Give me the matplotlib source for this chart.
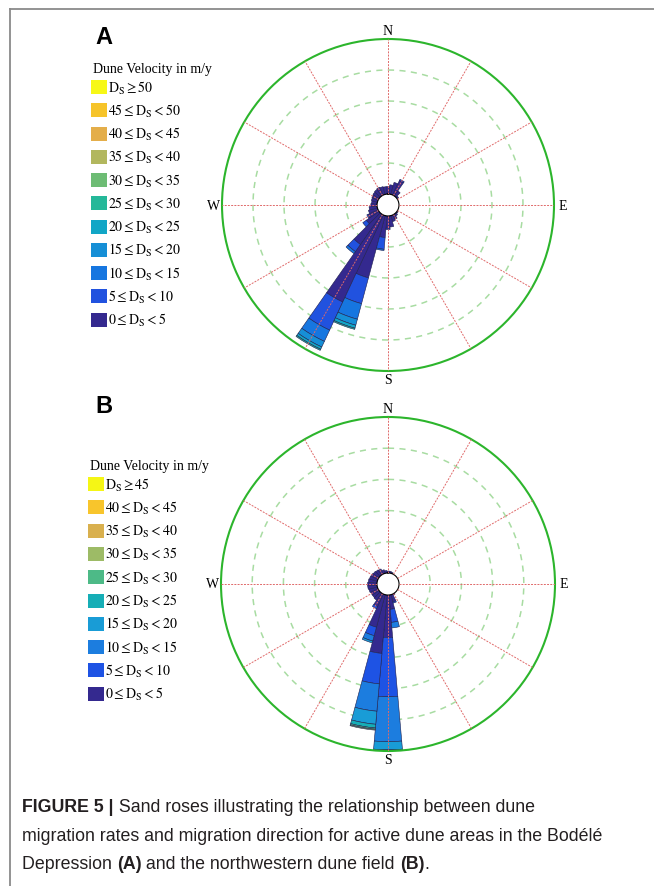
import numpy as np
import matplotlib
matplotlib.use('Agg')
import matplotlib.pyplot as plt
from matplotlib.patches import Rectangle
from matplotlib.lines import Line2D

plt.rcParams['mathtext.fontset'] = 'stix'

W, H = 654, 887

# direction bins (degrees clockwise from north), 10 degree sectors
directions = np.arange(0, 360, 10)

# panel A: frequency per direction for each velocity class (m/y)
a_0_5 = [1.2, 1.5, 2.0, 2.6, 1.0, 0.3, 0, 0, 0, 0,
         0, 0, 0, 0.2, 0.4, 0.8, 1.0, 1.8, 2.0, 3.5,
         10.4, 15.5, 6.0, 2.5, 1.8, 1.5, 1.3, 1.0, 0.9, 1.0,
         1.1, 1.2, 1.3, 1.4, 1.3, 1.2]
a_5_10 = [0, 0, 0, 0.2, 0, 0, 0, 0, 0, 0,
          0, 0, 0, 0, 0, 0, 0, 0, 0.2, 1.9,
          4.3, 5.0, 1.4, 0.7, 0.2, 0, 0, 0, 0, 0,
          0, 0, 0, 0, 0, 0]
a_10_15 = [0, 0, 0, 0, 0, 0, 0, 0, 0, 0,
           0, 0, 0, 0, 0, 0, 0, 0, 0, 0.2,
           2.6, 2.0, 0.4, 0, 0, 0, 0, 0, 0, 0,
           0, 0, 0, 0, 0, 0]
a_15_20 = [0, 0, 0, 0, 0, 0, 0, 0, 0, 0,
           0, 0, 0, 0, 0, 0, 0, 0, 0, 0,
           1.0, 1.0, 0, 0, 0, 0, 0, 0, 0, 0,
           0, 0, 0, 0, 0, 0]
a_20_25 = [0, 0, 0, 0, 0, 0, 0, 0, 0, 0,
           0, 0, 0, 0, 0, 0, 0, 0, 0, 0,
           0.5, 0.4, 0, 0, 0, 0, 0, 0, 0, 0,
           0, 0, 0, 0, 0, 0]
a_25_30 = [0, 0, 0, 0, 0, 0, 0, 0, 0, 0,
           0, 0, 0, 0, 0, 0, 0, 0, 0, 0,
           0.2, 0.2, 0, 0, 0, 0, 0, 0, 0, 0,
           0, 0, 0, 0, 0, 0]

# panel B
b_0_5 = [0.3, 0.3, 0.2, 0, 0, 0, 0, 0, 0, 0,
         0, 0, 0, 0, 0, 0.2, 1.2, 2.3, 6.8, 9.4,
         5.4, 2.2, 1.4, 1.3, 1.3, 1.4, 1.5, 1.5, 1.4, 1.3,
         1.2, 1.1, 1.0, 0.9, 0.6, 0.4]
b_5_10 = [0, 0, 0, 0, 0, 0, 0, 0, 0, 0,
          0, 0, 0, 0, 0, 0, 0.2, 2.1, 9.5, 4.9,
          1.4, 0.4, 0, 0, 0, 0, 0, 0, 0, 0,
          0, 0, 0, 0, 0, 0]
b_10_15 = [0, 0, 0, 0, 0, 0, 0, 0, 0, 0,
           0, 0, 0, 0, 0, 0, 0, 0.9, 7.2, 4.4,
           0.9, 0, 0, 0, 0, 0, 0, 0, 0, 0,
           0, 0, 0, 0, 0, 0]
b_15_20 = [0, 0, 0, 0, 0, 0, 0, 0, 0, 0,
           0, 0, 0, 0, 0, 0, 0, 0, 1.3, 2.1,
           0.3, 0, 0, 0, 0, 0, 0, 0, 0, 0,
           0, 0, 0, 0, 0, 0]
b_20_25 = [0, 0, 0, 0, 0, 0, 0, 0, 0, 0,
           0, 0, 0, 0, 0, 0, 0, 0, 0.3, 0.6,
           0, 0, 0, 0, 0, 0, 0, 0, 0, 0,
           0, 0, 0, 0, 0, 0]
b_25_30 = [0, 0, 0, 0, 0, 0, 0, 0, 0, 0,
           0, 0, 0, 0, 0, 0, 0, 0, 0, 0.2,
           0, 0, 0, 0, 0, 0, 0, 0, 0, 0,
           0, 0, 0, 0, 0, 0]
b_30_35 = [0, 0, 0, 0, 0, 0, 0, 0, 0, 0,
           0, 0, 0, 0, 0, 0, 0, 0, 0, 0.15,
           0, 0, 0, 0, 0, 0, 0, 0, 0, 0,
           0, 0, 0, 0, 0, 0]

a_classes = [a_0_5, a_5_10, a_10_15, a_15_20, a_20_25, a_25_30]
b_classes = [b_0_5, b_5_10, b_10_15, b_15_20, b_20_25, b_25_30, b_30_35]

# legend entries, top to bottom
a_labels = [r'$\mathrm{D_S} \geq 50$', r'$45 \leq \mathrm{D_S} < 50$',
            r'$40 \leq \mathrm{D_S} < 45$', r'$35 \leq \mathrm{D_S} < 40$',
            r'$30 \leq \mathrm{D_S} < 35$', r'$25 \leq \mathrm{D_S} < 30$',
            r'$20 \leq \mathrm{D_S} < 25$', r'$15 \leq \mathrm{D_S} < 20$',
            r'$10 \leq \mathrm{D_S} < 15$', r'$5 \leq \mathrm{D_S} < 10$',
            r'$0 \leq \mathrm{D_S} < 5$']
b_labels = [r'$\mathrm{D_S} \geq 45$', r'$40 \leq \mathrm{D_S} < 45$',
            r'$35 \leq \mathrm{D_S} < 40$', r'$30 \leq \mathrm{D_S} < 35$',
            r'$25 \leq \mathrm{D_S} < 30$', r'$20 \leq \mathrm{D_S} < 25$',
            r'$15 \leq \mathrm{D_S} < 20$', r'$10 \leq \mathrm{D_S} < 15$',
            r'$5 \leq \mathrm{D_S} < 10$', r'$0 \leq \mathrm{D_S} < 5$']

# parula-like colours, lowest class first
a_colors = ['#34298f', '#2152df', '#1676e0', '#168fd6', '#11a6c6', '#25b899',
            '#6dbc74', '#b2b75e', '#e4ae4a', '#f6c42a', '#f7f817']
b_colors = ['#34298f', '#1e53e4', '#1c7ddf', '#199cd6', '#16aeb6', '#4dba87',
            '#9dbb66', '#d9b04e', '#f8c52c', '#f5f615']

hole = 1.77      # empty centre, in frequency units
rmax = 25
rings = [5, 10, 15, 20]

fig = plt.figure(figsize=(W / 100, H / 100), dpi=100)


def frac(x, y):
    return x / W, 1 - y / H


def rose(cx, cy, rad, classes, colors):
    ax = fig.add_axes([(cx - rad) / W, 1 - (cy + rad) / H, 2 * rad / W, 2 * rad / H],
                      projection='polar')
    ax.set_theta_zero_location('N')
    ax.set_theta_direction(-1)
    ax.set_rorigin(-hole)
    ax.set_ylim(0, rmax)
    ax.set_xticks([])
    ax.set_yticks([])
    ax.grid(False)
    ax.spines['polar'].set_color('#2cb52c')
    ax.spines['polar'].set_linewidth(1.5)
    ax.spines['inner'].set_visible(False)

    th = np.linspace(0, 2 * np.pi, 361)
    for r in rings:
        ax.plot(th, np.full_like(th, r), color='#a8dca2', ls=(0, (4, 3.5)),
                lw=1.1, zorder=1)

    theta = np.deg2rad(directions)
    base = np.zeros(len(directions))
    for vals, c in zip(classes, colors):
        v = np.asarray(vals, dtype=float)
        m = v > 0
        ax.bar(theta[m], v[m], width=np.deg2rad(10), bottom=base[m], color=c,
               edgecolor='#1e1e4e', linewidth=0.4, zorder=2)
        base += v

    for a in range(0, 360, 30):
        ax.plot([np.deg2rad(a)] * 2, [0, rmax], color='#e06a6a',
                ls=(0, (2, 1.3)), lw=0.7, zorder=3)

    for a, lab in zip([0, 90, 180, 270], ['N', 'E', 'S', 'W']):
        ax.text(np.deg2rad(a), 26.4, lab, ha='center', va='center',
                family='Liberation Serif', size=10, clip_on=False)
    return ax


def legend(x0, y0, step, labels, colors):
    fig.text(*frac(x0 + 2, y0 - 18), 'Dune Velocity in m/y', family='Liberation Serif',
             size=10, ha='left', va='center')
    for i, (lab, c) in enumerate(zip(labels, colors[::-1])):
        y = y0 + step * i
        fig.add_artist(Rectangle(frac(x0, y + 7), 16 / W, 14 / H, facecolor=c,
                                 edgecolor='none', transform=fig.transFigure))
        fig.text(*frac(x0 + 17, y), lab, size=10, ha='left', va='center')


rose(388, 206, 166, a_classes, a_colors)
rose(388, 585, 167, b_classes, b_colors)

legend(91, 88, 23.25, a_labels, a_colors)
legend(88, 485, 23.3, b_labels, b_colors)

fig.text(*frac(95, 38), 'A', family='Liberation Sans', weight='bold', size=17,
         ha='left', va='center')
fig.text(*frac(95, 407), 'B', family='Liberation Sans', weight='bold', size=17,
         ha='left', va='center')

# frame around the figure
fig.add_artist(Line2D([10 / W, 1], [1 - 10 / H] * 2, color='#8a8a8a', lw=1.3,
                      transform=fig.transFigure))
fig.add_artist(Line2D([10 / W] * 2, [0, 1 - 10 / H], color='#8a8a8a', lw=1.3,
                      transform=fig.transFigure))

# caption, mixing bold and regular runs
renderer = fig.canvas.get_renderer()
caption = [
    [('FIGURE 5 |', 'bold'), (' Sand roses illustrating the relationship between dune', 'normal')],
    [('migration rates and migration direction for active dune areas in the Bodélé', 'normal')],
    [('Depression ', 'normal'), ('(A)', 'bold'), (' and the northwestern dune field ', 'normal'),
     ('(B)', 'bold'), ('.', 'normal')],
]
for k, line in enumerate(caption):
    x = 22
    y = 808 + 28.5 * k
    for txt, wt in line:
        t = fig.text(*frac(x, y), txt, family='Liberation Sans', weight=wt,
                     size=12.8, color='#231f20', ha='left', va='center')
        x += t.get_window_extent(renderer).width

fig.savefig('out.png', dpi=100)
